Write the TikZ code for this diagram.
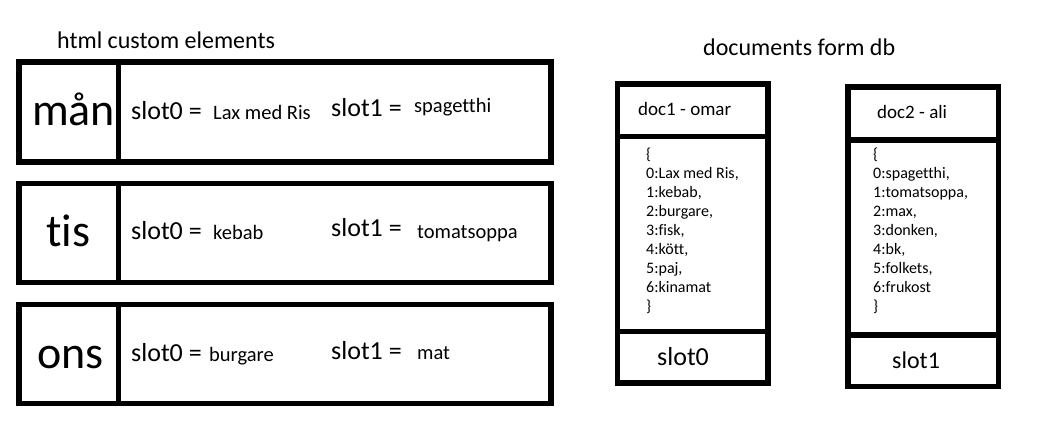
\documentclass[tikz,border=0pt]{standalone}
\usepackage{fontspec}
\setmainfont{Carlito}[Ligatures=NoCommon]
\usetikzlibrary{positioning}

\begin{document}
\begin{tikzpicture}[
    x=1pt, y=-1pt,
    frame/.style={
        rectangle,
        draw=black,
        line width=5.5pt,
        inner sep=0pt,
        outer sep=0pt,
        minimum width=#1
    },
    title/.style={
        font=\fontsize{24}{29}\selectfont,
        anchor=base west,
        inner sep=0pt
    },
    daylabel/.style={
        font=\fontsize{46}{55}\selectfont,
        anchor=base west,
        inner sep=0pt
    },
    slotlabel/.style={
        font=\fontsize{26}{31}\selectfont,
        anchor=base west,
        inner sep=0pt
    },
    dish/.style={
        font=\fontsize{20.5}{25}\selectfont,
        anchor=base west,
        inner sep=0pt
    },
    doclabel/.style={
        font=\fontsize{19}{23}\selectfont,
        anchor=base west,
        inner sep=0pt
    },
    doclist/.style={
        font=\fontsize{16}{19}\selectfont,
        align=left,
        anchor=north west,
        inner sep=0pt
    }
]
\useasboundingbox (0,0) rectangle (1042,431);

% Titles
\node[title] (htmltitle) at (57,48) {html custom elements};
\node[title] (dbtitle) at (703,55) {documents form db};

% Custom element rows
\node[frame=532, minimum height=100, anchor=north west] (row1) at (19,62) {};
\node[frame=99.5, minimum height=100, anchor=north west] (day1) at (19,62) {};
\node[frame=532, minimum height=99, anchor=north west] (row2) at (19,183.5) {};
\node[frame=99.5, minimum height=99, anchor=north west] (day2) at (19,183.5) {};
\node[frame=532, minimum height=99, anchor=north west] (row3) at (19,304.5) {};
\node[frame=99.5, minimum height=99, anchor=north west] (day3) at (19,304.5) {};

\node[daylabel] (man) at (32,125) {mån};
\node[daylabel] (tis) at (46,246.5) {tis};
\node[daylabel] (ons) at (37,368) {ons};

\node[slotlabel] (r1s0) at (131,119) {slot0 =};
\node[dish] (r1d0) at (213,119) {Lax med Ris};
\node[slotlabel] (r1s1) at (331,116) {slot1 =};
\node[dish] (r1d1) at (414,112) {spagetthi};

\node[slotlabel] (r2s0) at (131,239) {slot0 =};
\node[dish] (r2d0) at (213,239) {kebab};
\node[slotlabel] (r2s1) at (331,236) {slot1 =};
\node[dish] (r2d1) at (417,238) {tomatsoppa};

\node[slotlabel] (r3s0) at (131,361) {slot0 =};
\node[dish] (r3d0) at (209,361) {burgare};
\node[slotlabel] (r3s1) at (331,359) {slot1 =};
\node[dish] (r3d1) at (417,359) {mat};

% Documents from db
\node[frame=150.5, minimum height=52.5, anchor=north west] (doc1head) at (617.5,84) {};
\node[frame=150.5, minimum height=195, below=0pt of doc1head] (doc1body) {};
\node[frame=150.5, minimum height=51.5, below=0pt of doc1body] (doc1slot) {};

\node[frame=150.3, minimum height=53, anchor=north west] (doc2head) at (848,86.8) {};
\node[frame=150.3, minimum height=195, below=0pt of doc2head] (doc2body) {};
\node[frame=150.3, minimum height=51.7, below=0pt of doc2body] (doc2slot) {};

\node[doclabel] (doc1name) at (638,115) {doc1 - omar};
\node[doclabel] (doc2name) at (877,118) {doc2 - ali};

\node[doclist] (doc1list) at (646,148) {\{\\0:Lax med Ris,\\1:kebab,\\2:burgare,\\3:fisk,\\4:kött,\\5:paj,\\6:kinamat\\\}};
\node[doclist] (doc2list) at (873,148) {\{\\0:spagetthi,\\1:tomatsoppa,\\2:max,\\3:donken,\\4:bk,\\5:folkets,\\6:frukost\\\}};

\node[slotlabel] (doc1slotname) at (657,365) {slot0};
\node[slotlabel, font=\fontsize{24}{29}\selectfont] (doc2slotname) at (892,368) {slot1};

\end{tikzpicture}
\end{document}
